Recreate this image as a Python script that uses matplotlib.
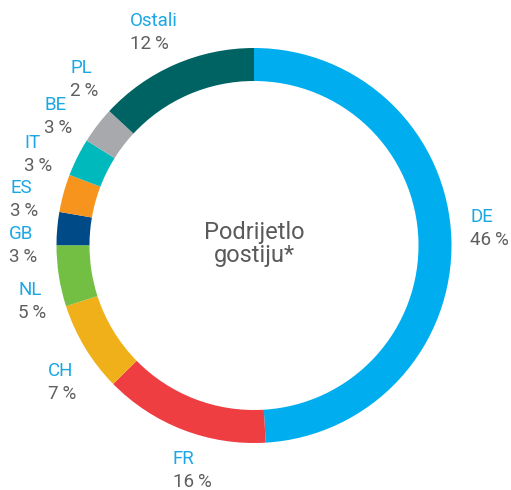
import matplotlib.pyplot as plt

# ── Data ───────────────────────────────────────────────────────────────────────
countries = ['DE', 'FR', 'CH', 'NL', 'GB', 'ES', 'IT', 'BE', 'PL', 'Ostali']
pct_labels = [46, 16, 7, 5, 3, 3, 3, 3, 2, 12]

# ring segments as drawn (clockwise from the top)
seg_names = ['DE', 'FR', 'CH', 'NL', 'GB', 'ES', 'IT', 'BE', 'Ostali']
seg_values = [49.1, 13.6, 7.4, 5.0, 2.7, 3.1, 3.1, 3.0, 13.1]

# ── Style ──────────────────────────────────────────────────────────────────────
plt.rcParams['font.family'] = ['Roboto', 'DejaVu Sans']

SEG_COLORS = ['#00aeef', '#ee3e42', '#f0b01a', '#72bf44', '#004b87',
              '#f7941d', '#00b9bd', '#a8a9ad', '#006363']
NAME_COLOR = '#1aa7e4'
PCT_COLOR = '#5f5f5f'

W, H = 511, 490
CX, CY, R, RING = 254, 245.5, 197.5, 33

# label anchor (left x, name baseline y) in pixels from top-left
LABEL_POS = {
    'DE': (470, 222), 'FR': (173, 464), 'CH': (48, 376), 'NL': (18, 295),
    'GB': (9, 239), 'ES': (10, 193), 'IT': (24, 148), 'BE': (44, 110),
    'PL': (70, 73), 'Ostali': (130, 26),
}
LINE_GAP = 23

fig = plt.figure(figsize=(W / 100, H / 100), dpi=100)
ax = fig.add_axes([0, 0, 1, 1])
ax.axis('off')

ax.pie(seg_values, colors=SEG_COLORS, startangle=90, counterclock=False,
       center=(CX, H - CY), radius=R,
       wedgeprops=dict(width=RING, linewidth=0))
ax.set_xlim(0, W)
ax.set_ylim(0, H)
ax.set_aspect('equal')

for name, pct in zip(countries, pct_labels):
    x, y = LABEL_POS[name]
    ax.text(x, H - y, name, color=NAME_COLOR, fontsize=13.5,
            ha='left', va='baseline')
    ax.text(x, H - y - LINE_GAP, f'{pct}\u2009%', color=PCT_COLOR, fontsize=13.5,
            ha='left', va='baseline')

ax.text(CX, H - 239, 'Podrijetlo', color='#5a5a5a', fontsize=17,
        ha='center', va='baseline')
ax.text(CX, H - 262, 'gostiju*', color='#5a5a5a', fontsize=17,
        ha='center', va='baseline')

fig.savefig('out.png', dpi=100)
